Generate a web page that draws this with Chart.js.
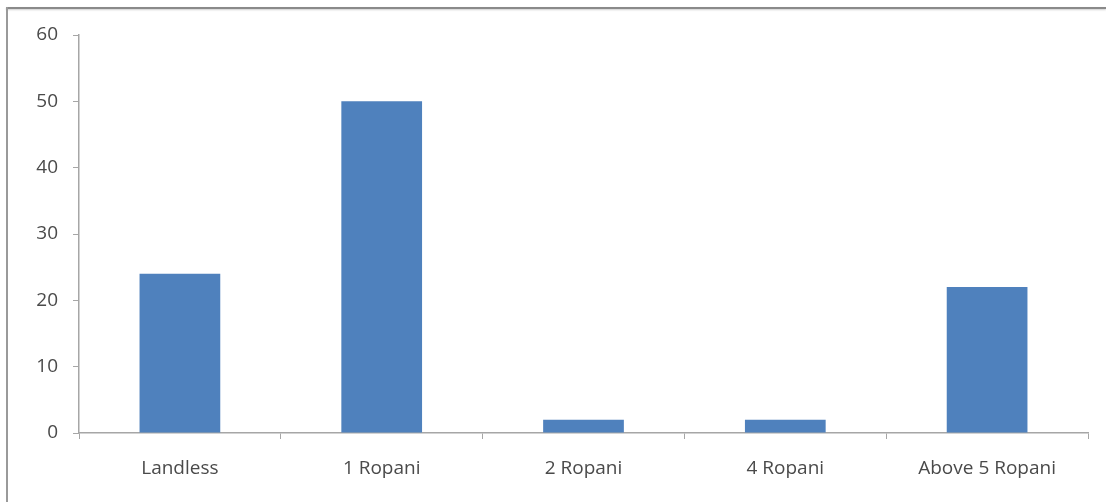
<!DOCTYPE html>
<html>
<head>
<meta charset="utf-8">
<script src="https://cdn.jsdelivr.net/npm/chart.js@4.4.1/dist/chart.umd.min.js"></script>
<style>
  html,body{margin:0;padding:0;background:#fff;overflow:hidden}
  #wrap{position:relative;width:1106px;height:502px;overflow:hidden}
  .borde{position:absolute;background:#8a8a8a}
  #bt{left:6px;top:7px;width:1100px;height:2px;box-shadow:0 1px 2px rgba(0,0,0,.2)}
  #bl{left:6px;top:7px;width:2px;height:495px;background:#9a9a9a}
  canvas{position:absolute;left:0;top:0}
</style>
</head>
<body>
<div id="wrap">
  <div class="borde" id="bt"></div>
  <div class="borde" id="bl"></div>
  <canvas id="ch" width="1106" height="502"></canvas>
</div>
<script>
// datos
const categorias=['Landless','1 Ropani','2 Ropani','4 Ropani','Above 5 Ropani'];
const valores=[24,50,2,2,22];
const yMin=0, yMax=60, yPaso=10;

const tc='#4a4a4a', lc='#a6a6a6';
const fuente={family:'"Open Sans", sans-serif',size:19};

new Chart(document.getElementById('ch'),{
  type:'bar',
  data:{labels:categorias,datasets:[{data:valores,backgroundColor:'#4f81bd',borderWidth:0,
    categoryPercentage:1,barPercentage:0.4}]},
  options:{responsive:false,animation:false,
    layout:{padding:{left:0,right:18,top:35,bottom:0}},
    plugins:{legend:{display:false},tooltip:{enabled:false}},
    scales:{
      x:{grid:{display:true,drawOnChartArea:false,drawTicks:true,tickLength:6,color:lc,offset:true},
        border:{display:true,color:lc,width:1.5},
        ticks:{color:tc,font:fuente,padding:18,maxRotation:0},
        afterFit:s=>{s.height=69;}},
      y:{min:yMin,max:yMax,
        grid:{display:true,drawOnChartArea:false,drawTicks:true,tickLength:6,color:lc},
        border:{display:true,color:lc,width:1.5},
        ticks:{color:tc,font:fuente,stepSize:yPaso,padding:15},
        afterFit:s=>{s.width=79;}}
    }}
});
</script>
</body>
</html>
